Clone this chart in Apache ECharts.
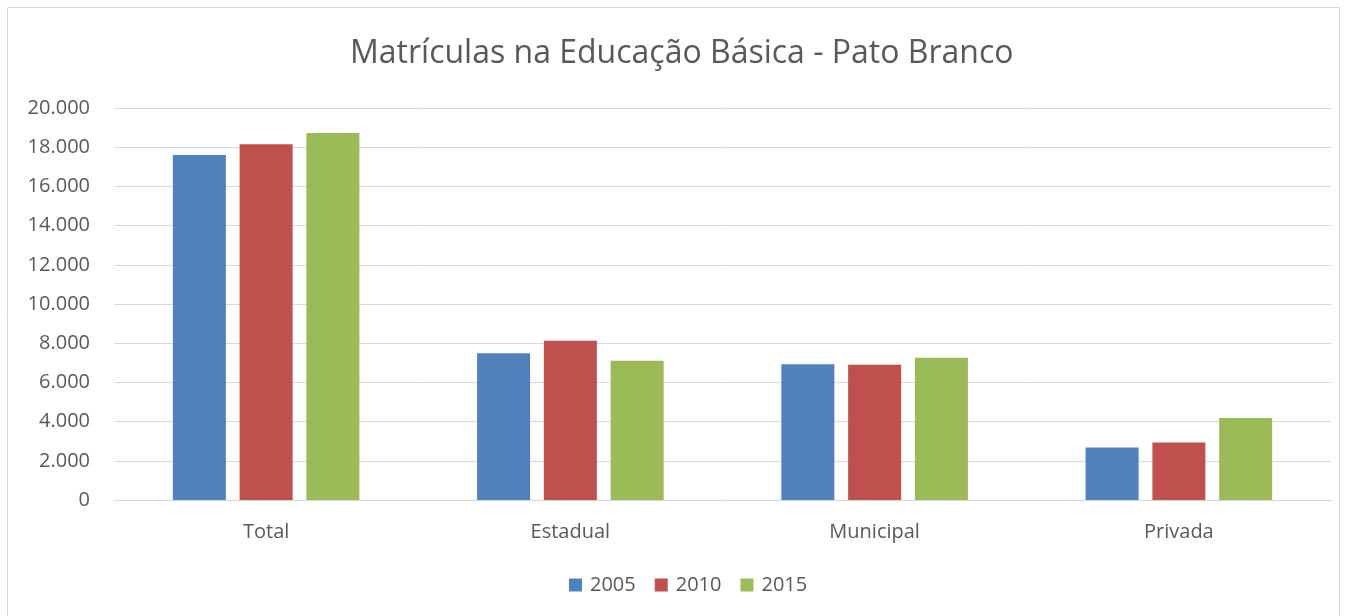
<!DOCTYPE html>
<html><head><meta charset="utf-8">
<script src="https://cdn.jsdelivr.net/npm/echarts@6/dist/echarts.min.js"></script>
<style>html,body{margin:0;padding:0;background:#fff}#c{width:1347px;height:616px}</style>
</head><body><div id="c"></div>
<script>
const categories = ['Total', 'Estadual', 'Municipal', 'Privada'];
const seriesNames = ['2005', '2010', '2015'];
const values2005 = [17600, 7490, 6920, 2675];
const values2010 = [18150, 8130, 6900, 2930];
const values2015 = [18730, 7110, 7260, 4190];
const colors = ['#4F81BD', '#C0504D', '#9BBB59'];
const FONT = 'Open Sans';
const chart = echarts.init(document.getElementById('c'));
const fmt = v => String(v).replace(/\B(?=(\d{3})+(?!\d))/g, '.');
chart.setOption({
  animation: false,
  textStyle: { fontFamily: FONT },
  title: { text: 'Matrículas na Educação Básica - Pato Branco', left: 350, top: 38,
    padding: 0,
    textStyle: { fontFamily: FONT, fontSize: 32, fontWeight: 'normal', color: '#595959' } },
  graphic: [{ type: 'rect', shape: { x: 7.5, y: 7.5, width: 1332, height: 620 },
    style: { fill: 'none', stroke: '#d9d9d9', lineWidth: 1 }, silent: true }],
  legend: { data: seriesNames, bottom: 21, left: 569, itemWidth: 13, itemHeight: 13, itemGap: 19,
    padding: 0,
    icon: 'rect', textStyle: { fontFamily: FONT, fontSize: 20, color: '#595959', padding: [0,0,0,3] } },
  grid: { left: 114, right: 16, top: 108, bottom: 116 },
  xAxis: { type: 'category', data: categories,
    axisLine: { lineStyle: { color: '#d9d9d9', width: 1 } }, axisTick: { show: false },
    axisLabel: { fontFamily: FONT, fontSize: 20, color: '#595959', margin: 22 } },
  yAxis: { type: 'value', min: 0, max: 20000, interval: 2000,
    axisLine: { show: false }, axisTick: { show: false },
    splitLine: { lineStyle: { color: '#d9d9d9', width: 1 } },
    axisLabel: { fontFamily: FONT, fontSize: 20, color: '#595959', margin: 24, formatter: fmt } },
  series: [values2005, values2010, values2015].map((d, i) => ({
    name: seriesNames[i], type: 'bar', data: d, barWidth: 53, barGap: '26%',
    itemStyle: { color: colors[i] }
  }))
});
</script></body></html>
